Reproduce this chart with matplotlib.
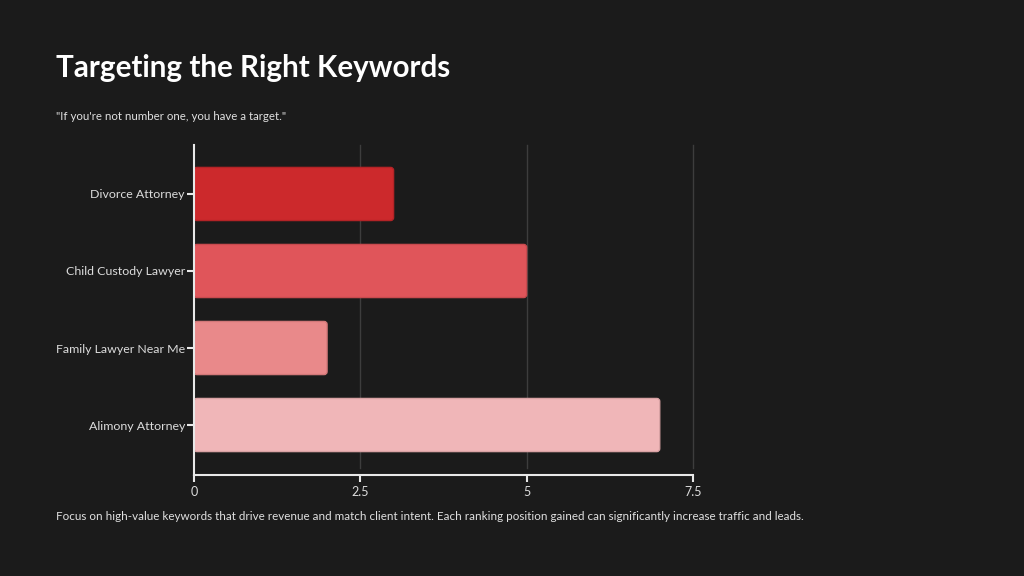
import matplotlib
matplotlib.use("Agg")
import matplotlib.pyplot as plt
from matplotlib.patches import FancyBboxPatch

categories = ["Divorce Attorney", "Child Custody Lawyer", "Family Lawyer Near Me", "Alimony Attorney"]
values = [3, 5, 2, 7]
xticks = [0, 2.5, 5, 7.5]
xtick_labels = ["0", "2.5", "5", "7.5"]
colors = ["#cc292c", "#e0555a", "#e9898a", "#f0b6b8"]
edges = ["#b32326", "#c84a4e", "#d27879", "#d9a2a4"]

title = "Targeting the Right Keywords"
subtitle = "\"If you're not number one, you have a target.\""
footer = ("Focus on high-value keywords that drive revenue and match client intent. "
          "Each ranking position gained can significantly increase traffic and leads.")

BG = "#1b1b1b"
plt.rcParams['font.family'] = ['Lato', 'DejaVu Sans']

W, H = 1024, 576
fig = plt.figure(figsize=(W / 100, H / 100), dpi=100, facecolor=BG)
# axes: x 194..693, y 145..475 (pixels from top)
ax = fig.add_axes([194 / W, 1 - 475 / H, (693 - 194) / W, (475 - 145) / H], facecolor=BG)

ypos = list(range(len(categories)))
bars = ax.barh(ypos, values, height=0.69, color=colors, edgecolor=edges, linewidth=1.0, zorder=3)

ax.set_xlim(0, 7.5)
ax.set_ylim(3.649, -0.636)

# rounded corners: replace each rectangle by a rounded box of the same extent
x_px_per_unit = (693 - 194) / 7.5
y_px_per_unit = 77.0
for rect, fc, ec in zip(bars.patches, colors, edges):
    x0, y0 = rect.get_x(), rect.get_y()
    w, h = rect.get_width(), rect.get_height()
    rb = FancyBboxPatch((x0, y0), w, h,
                        boxstyle="round,pad=0,rounding_size=%f" % (3.0 / x_px_per_unit),
                        mutation_aspect=x_px_per_unit / y_px_per_unit,
                        facecolor=fc, edgecolor=ec, linewidth=1.0, zorder=3)
    rect.set_visible(False)
    ax.add_patch(rb)

ax.set_yticks(ypos)
ax.set_yticklabels(categories)
ax.set_xticks(xticks)
ax.set_xticklabels(xtick_labels)

for xv in xticks[1:]:
    ax.axvline(xv, ymin=7 / 330, ymax=1, color="#3d3d3d", linewidth=1.0, zorder=1, clip_on=False)

for s in ["top", "right"]:
    ax.spines[s].set_visible(False)
for s in ["left", "bottom"]:
    ax.spines[s].set_color("#e8e8e8")
    ax.spines[s].set_linewidth(1.5)
    ax.spines[s].set_zorder(4)

ax.tick_params(axis="both", colors="#e8e8e8", labelcolor="#dcdcdc", labelsize=9,
               length=5, width=1.5, direction="out")
ax.tick_params(axis="y", labelsize=8.9, pad=1.5)
ax.tick_params(axis="x", pad=3)

fig.text(56 / W, 1 - 68 / H, title, color="white", fontsize=21.3, fontweight="bold",
         va="center", ha="left")
fig.text(56 / W, 1 - 117 / H, subtitle, color="#e0e0e0", fontsize=8.3, va="center", ha="left")
fig.text(56 / W, 1 - 517 / H, footer, color="#e0e0e0", fontsize=8.35, va="center", ha="left")

fig.savefig("out.png", dpi=100, facecolor=BG)
